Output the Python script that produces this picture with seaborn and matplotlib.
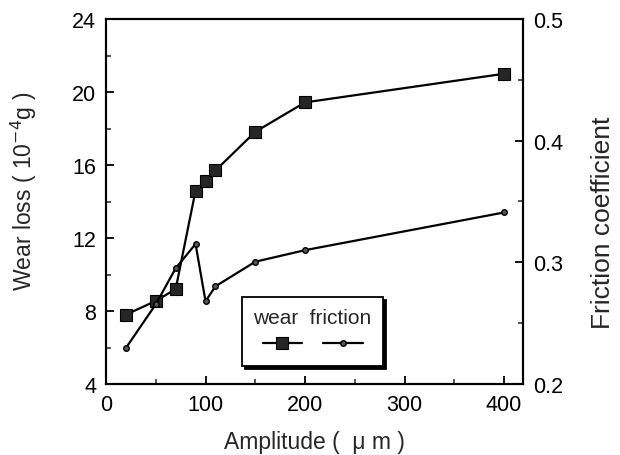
import matplotlib
matplotlib.use("Agg")
import matplotlib.pyplot as plt
from matplotlib.ticker import MultipleLocator
import seaborn as sns

# data
amplitude = [20, 50, 70, 90, 100, 110, 150, 200, 400]
wear_loss = [7.8, 8.55, 9.2, 14.6, 15.15, 15.7, 17.82, 19.43, 21.0]
friction = [0.2296, 0.2655, 0.2951, 0.3151, 0.268, 0.2803, 0.3005, 0.310, 0.341]

sns.set_style("ticks")
plt.rcParams['font.family'] = ['Liberation Sans', 'DejaVu Sans']

fig = plt.figure(figsize=(6.2, 4.56), dpi=100)
ax = fig.add_axes([106 / 620, 71 / 456, 417 / 620, 365 / 456])
ax2 = ax.twinx()

# wear loss (left axis)
sns.lineplot(x=amplitude, y=wear_loss, ax=ax, color='black', linewidth=1.6,
             marker='s', markersize=8.5, markerfacecolor='#262626',
             markeredgecolor='black', markeredgewidth=0.8)
# friction coefficient (right axis)
sns.lineplot(x=amplitude, y=friction, ax=ax2, color='black', linewidth=1.6,
             marker='o', markersize=4, markerfacecolor='#555555',
             markeredgecolor='black', markeredgewidth=1.0)

ax.set_xlim(0, 419)
ax.set_ylim(4, 24)
ax2.set_ylim(0.2, 0.5)

ax.xaxis.set_major_locator(MultipleLocator(100))
ax.xaxis.set_minor_locator(MultipleLocator(50))
ax.yaxis.set_major_locator(MultipleLocator(4))
ax.yaxis.set_minor_locator(MultipleLocator(2))
ax2.yaxis.set_major_locator(MultipleLocator(0.1))
ax2.yaxis.set_minor_locator(MultipleLocator(0.05))
ax2.yaxis.set_major_formatter(plt.FormatStrFormatter('%.1f'))

for a in (ax, ax2):
    for s in a.spines.values():
        s.set_visible(True)
        s.set_linewidth(1.5)
        s.set_color('black')
    a.tick_params(which='major', direction='in', length=6, width=1.3,
                  labelsize=15.5, colors='black', pad=7)
    a.tick_params(which='minor', direction='in', length=3.5, width=1.1)
ax.tick_params(axis='y', which='both', left=True, right=False)
ax2.tick_params(axis='y', which='both', left=False, right=True)

ax.set_xlabel('Amplitude (  μ m )', fontsize=16.5)
ax.set_ylabel('Wear loss ( 10$^{-4}$g )', fontsize=16.5)
ax2.set_ylabel('Friction coefficient', fontsize=19, rotation=90)
for lab in (ax.xaxis.label, ax.yaxis.label, ax2.yaxis.label):
    lab.set_va('center')
ax.xaxis.set_label_coords(0.5, -0.158)
ax.yaxis.set_label_coords(-0.197, 0.529)
ax2.yaxis.set_label_coords(1.192, 0.444)

# legend: title row with names, handles beneath
leg = ax2.legend([ax.lines[0], ax2.lines[0]], ['', ''], title='wear  friction',
                 ncol=2, loc='lower left', bbox_to_anchor=(0.326, 0.049),
                 borderaxespad=0, fontsize=15, title_fontsize=15,
                 handlelength=1.9, handletextpad=0, columnspacing=1.0,
                 borderpad=0.55, labelspacing=0.4, fancybox=False,
                 framealpha=1, edgecolor='black',
                 shadow={'color': 'black', 'alpha': 1})
leg.get_frame().set_linewidth(1.3)

fig.savefig('out.png', dpi=100)
